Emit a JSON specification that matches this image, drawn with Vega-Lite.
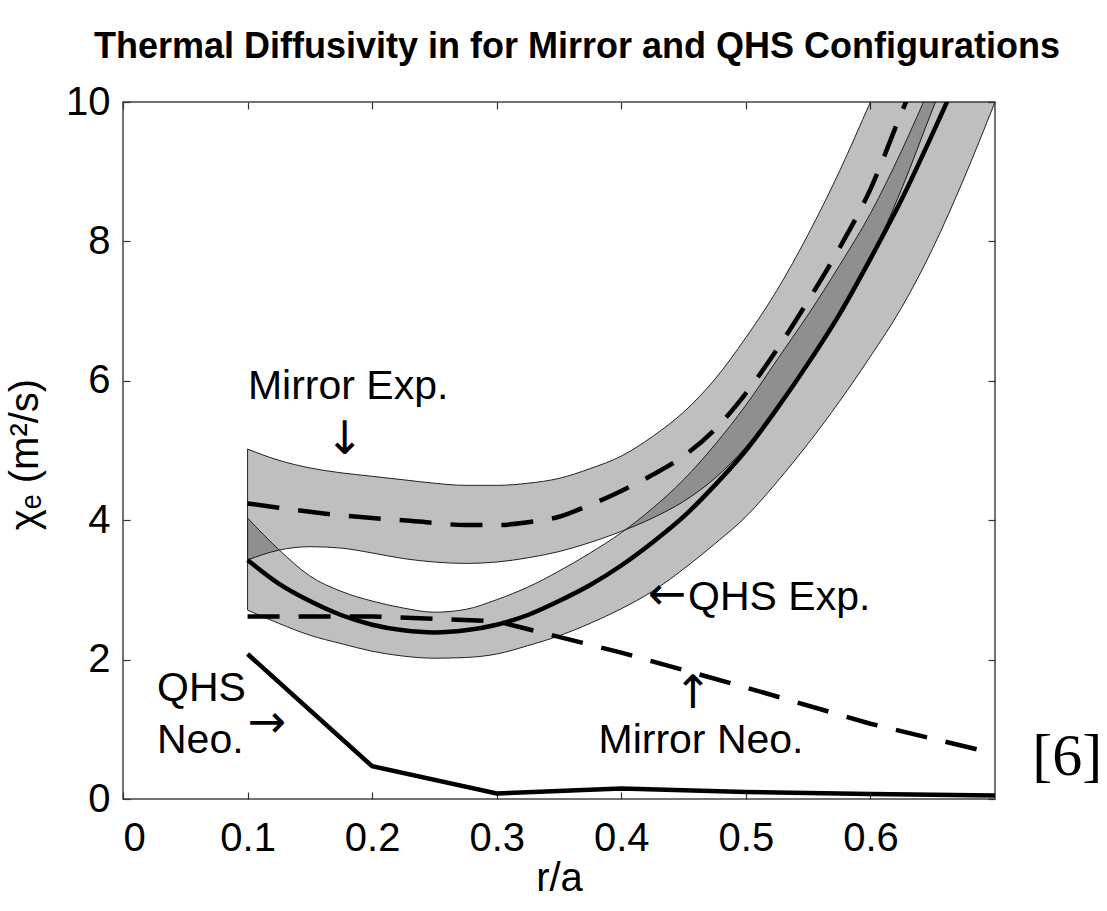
{
  "$schema": "https://vega.github.io/schema/vega-lite/v6.json",
  "width": 872,
  "height": 697,
  "autosize": {"type": "none"},
  "padding": {"left": 123, "top": 102, "right": 112, "bottom": 112},
  "background": "white",
  "title": {
    "text": "Thermal Diffusivity in for Mirror and QHS Configurations",
    "font": "Liberation Sans",
    "fontSize": 36,
    "fontWeight": "bold",
    "color": "black",
    "anchor": "middle",
    "frame": "group",
    "baseline": "alphabetic",
    "offset": -12,
    "dx": 18
  },
  "config": {
    "view": {"stroke": "#444", "strokeWidth": 1.5},
    "axis": {
      "domain": false,
      "grid": false,
      "tickColor": "#333",
      "tickWidth": 1.2,
      "labelFont": "Liberation Sans",
      "labelFontSize": 40,
      "labelColor": "black",
      "titleFont": "Liberation Sans",
      "titleFontSize": 40,
      "titleFontWeight": "normal",
      "titleColor": "black"
    }
  },
  "datasets": {
    "qhs": [
      {"x": 0.100, "lo": 2.71, "mid": 3.43, "hi": 4.03},
      {"x": 0.125, "lo": 2.52, "mid": 3.09, "hi": 3.58},
      {"x": 0.150, "lo": 2.35, "mid": 2.84, "hi": 3.20},
      {"x": 0.175, "lo": 2.23, "mid": 2.64, "hi": 2.98},
      {"x": 0.200, "lo": 2.12, "mid": 2.50, "hi": 2.84},
      {"x": 0.225, "lo": 2.05, "mid": 2.42, "hi": 2.74},
      {"x": 0.250, "lo": 2.02, "mid": 2.39, "hi": 2.68},
      {"x": 0.275, "lo": 2.03, "mid": 2.42, "hi": 2.72},
      {"x": 0.300, "lo": 2.08, "mid": 2.50, "hi": 2.86},
      {"x": 0.325, "lo": 2.20, "mid": 2.64, "hi": 3.04},
      {"x": 0.350, "lo": 2.34, "mid": 2.84, "hi": 3.27},
      {"x": 0.375, "lo": 2.52, "mid": 3.07, "hi": 3.53},
      {"x": 0.400, "lo": 2.73, "mid": 3.35, "hi": 3.82},
      {"x": 0.425, "lo": 2.98, "mid": 3.68, "hi": 4.17},
      {"x": 0.450, "lo": 3.30, "mid": 4.05, "hi": 4.58},
      {"x": 0.475, "lo": 3.66, "mid": 4.50, "hi": 5.08},
      {"x": 0.500, "lo": 4.05, "mid": 5.00, "hi": 5.65},
      {"x": 0.525, "lo": 4.55, "mid": 5.60, "hi": 6.30},
      {"x": 0.550, "lo": 5.10, "mid": 6.25, "hi": 6.95},
      {"x": 0.575, "lo": 5.70, "mid": 6.95, "hi": 7.65},
      {"x": 0.600, "lo": 6.35, "mid": 7.75, "hi": 8.40},
      {"x": 0.625, "lo": 7.05, "mid": 8.60, "hi": 9.30},
      {"x": 0.650, "lo": 7.90, "mid": 9.55, "hi": 10.30},
      {"x": 0.675, "lo": 8.90, "mid": 10.55, "hi": 11.30},
      {"x": 0.700, "lo": 10.00, "mid": 11.60, "hi": 12.30}
    ],
    "mir": [
      {"x": 0.100, "lo": 3.43, "mid": 4.24, "hi": 5.02},
      {"x": 0.125, "lo": 3.57, "mid": 4.18, "hi": 4.86},
      {"x": 0.150, "lo": 3.62, "mid": 4.12, "hi": 4.75},
      {"x": 0.175, "lo": 3.60, "mid": 4.07, "hi": 4.68},
      {"x": 0.200, "lo": 3.53, "mid": 4.03, "hi": 4.63},
      {"x": 0.225, "lo": 3.45, "mid": 4.00, "hi": 4.58},
      {"x": 0.250, "lo": 3.40, "mid": 3.96, "hi": 4.53},
      {"x": 0.275, "lo": 3.38, "mid": 3.93, "hi": 4.50},
      {"x": 0.300, "lo": 3.40, "mid": 3.93, "hi": 4.50},
      {"x": 0.325, "lo": 3.46, "mid": 3.97, "hi": 4.53},
      {"x": 0.350, "lo": 3.55, "mid": 4.05, "hi": 4.60},
      {"x": 0.375, "lo": 3.68, "mid": 4.22, "hi": 4.74},
      {"x": 0.400, "lo": 3.84, "mid": 4.42, "hi": 4.92},
      {"x": 0.425, "lo": 4.03, "mid": 4.65, "hi": 5.20},
      {"x": 0.450, "lo": 4.27, "mid": 4.92, "hi": 5.55},
      {"x": 0.475, "lo": 4.60, "mid": 5.30, "hi": 6.02},
      {"x": 0.500, "lo": 5.05, "mid": 5.82, "hi": 6.62},
      {"x": 0.525, "lo": 5.62, "mid": 6.45, "hi": 7.30},
      {"x": 0.550, "lo": 6.25, "mid": 7.15, "hi": 8.10},
      {"x": 0.575, "lo": 6.95, "mid": 7.90, "hi": 9.00},
      {"x": 0.600, "lo": 7.75, "mid": 8.75, "hi": 10.00},
      {"x": 0.625, "lo": 8.75, "mid": 9.85, "hi": 11.00},
      {"x": 0.650, "lo": 9.90, "mid": 10.90, "hi": 12.00},
      {"x": 0.675, "lo": 11.00, "mid": 12.00, "hi": 13.00},
      {"x": 0.700, "lo": 12.10, "mid": 13.10, "hi": 14.00}
    ],
    "neo": [
      {"x": 0.1, "y": 2.62, "series": "Mirror Neo."},
      {"x": 0.2, "y": 2.62, "series": "Mirror Neo."},
      {"x": 0.3, "y": 2.55, "series": "Mirror Neo."},
      {"x": 0.4, "y": 2.10, "series": "Mirror Neo."},
      {"x": 0.5, "y": 1.60, "series": "Mirror Neo."},
      {"x": 0.6, "y": 1.08, "series": "Mirror Neo."},
      {"x": 0.7, "y": 0.65, "series": "Mirror Neo."},
      {"x": 0.1, "y": 2.08, "series": "QHS Neo."},
      {"x": 0.2, "y": 0.47, "series": "QHS Neo."},
      {"x": 0.3, "y": 0.08, "series": "QHS Neo."},
      {"x": 0.4, "y": 0.15, "series": "QHS Neo."},
      {"x": 0.5, "y": 0.10, "series": "QHS Neo."},
      {"x": 0.6, "y": 0.07, "series": "QHS Neo."},
      {"x": 0.7, "y": 0.05, "series": "QHS Neo."}
    ],
    "notesLeft": [
      {"x": 0.1003, "y": 5.91, "label": "Mirror Exp."},
      {"x": 0.4536, "y": 2.88, "label": "QHS Exp."},
      {"x": 0.0273, "y": 1.58, "label": "QHS"},
      {"x": 0.0273, "y": 0.83, "label": "Neo."}
    ],
    "notesCenter": [
      {"x": 0.464, "y": 0.83, "label": "Mirror Neo."}
    ],
    "arrows": [
      {"x": 0.178, "y": 5.15, "label": "↓"},
      {"x": 0.4367, "y": 2.93, "label": "←"},
      {"x": 0.4576, "y": 1.5, "label": "↑"},
      {"x": 0.1156, "y": 1.09, "label": "→"}
    ],
    "ref": [
      {"x": 0.758, "y": 0.6, "label": "[6]"}
    ]
  },
  "resolve": {"axis": {"x": "independent", "y": "independent"}},
  "layer": [
    {
      "data": {"name": "mir"},
      "mark": {"type": "area", "clip": true, "fill": "black", "fillOpacity": 0.25, "stroke": "#222", "strokeWidth": 1, "interpolate": "monotone"},
      "encoding": {
        "x": {"field": "x", "type": "quantitative", "scale": {"domain": [0, 0.7], "nice": false, "zero": false},
              "axis": {"orient": "bottom", "values": [0, 0.1, 0.2, 0.3, 0.4, 0.5, 0.6], "format": "~g", "tickSize": -7, "labelPadding": 26, "title": "r/a", "titlePadding": 0}},
        "y": {"field": "lo", "type": "quantitative", "scale": {"domain": [0, 10], "nice": false},
              "axis": {"orient": "left", "values": [0, 2, 4, 6, 8, 10], "tickSize": -7, "labelPadding": 20, "title": "χₑ (m²/s)", "titleX": -98, "titleY": 352, "titleAngle": -90, "titleAlign": "center", "titleBaseline": "middle"}},
        "y2": {"field": "hi"}
      }
    },
    {
      "data": {"name": "qhs"},
      "mark": {"type": "area", "clip": true, "fill": "black", "fillOpacity": 0.25, "stroke": "#222", "strokeWidth": 1, "interpolate": "monotone"},
      "encoding": {
        "x": {"field": "x", "type": "quantitative", "axis": {"orient": "top", "values": [0, 0.1, 0.2, 0.3, 0.4, 0.5, 0.6], "tickSize": -7, "labels": false, "title": null}},
        "y": {"field": "lo", "type": "quantitative", "axis": {"orient": "right", "values": [0, 2, 4, 6, 8, 10], "tickSize": -7, "labels": false, "title": null}},
        "y2": {"field": "hi"}
      }
    },
    {
      "data": {"name": "mir"},
      "mark": {"type": "line", "clip": true, "color": "black", "strokeWidth": 4.5, "strokeDash": [32, 19], "interpolate": "monotone"},
      "encoding": {
        "x": {"field": "x", "type": "quantitative", "axis": null},
        "y": {"field": "mid", "type": "quantitative", "axis": null}
      }
    },
    {
      "data": {"name": "qhs"},
      "mark": {"type": "line", "clip": true, "color": "black", "strokeWidth": 4.5, "interpolate": "monotone"},
      "encoding": {
        "x": {"field": "x", "type": "quantitative", "axis": null},
        "y": {"field": "mid", "type": "quantitative", "axis": null}
      }
    },
    {
      "data": {"name": "neo"},
      "transform": [{"filter": "datum.series === 'Mirror Neo.'"}],
      "mark": {"type": "line", "clip": true, "color": "black", "strokeWidth": 4.5, "strokeDash": [32, 19]},
      "encoding": {
        "x": {"field": "x", "type": "quantitative", "axis": null},
        "y": {"field": "y", "type": "quantitative", "axis": null}
      }
    },
    {
      "data": {"name": "neo"},
      "transform": [{"filter": "datum.series === 'QHS Neo.'"}],
      "mark": {"type": "line", "clip": true, "color": "black", "strokeWidth": 4.5},
      "encoding": {
        "x": {"field": "x", "type": "quantitative", "axis": null},
        "y": {"field": "y", "type": "quantitative", "axis": null}
      }
    },
    {
      "data": {"name": "notesLeft"},
      "mark": {"type": "text", "font": "Liberation Sans", "fontSize": 41, "color": "black", "baseline": "middle", "align": "left"},
      "encoding": {
        "x": {"field": "x", "type": "quantitative", "axis": null},
        "y": {"field": "y", "type": "quantitative", "axis": null},
        "text": {"field": "label"}
      }
    },
    {
      "data": {"name": "notesCenter"},
      "mark": {"type": "text", "font": "Liberation Sans", "fontSize": 41, "color": "black", "baseline": "middle", "align": "center"},
      "encoding": {
        "x": {"field": "x", "type": "quantitative", "axis": null},
        "y": {"field": "y", "type": "quantitative", "axis": null},
        "text": {"field": "label"}
      }
    },
    {
      "data": {"name": "arrows"},
      "mark": {"type": "text", "font": "DejaVu Sans", "fontSize": 46, "color": "black", "baseline": "middle", "align": "center"},
      "encoding": {
        "x": {"field": "x", "type": "quantitative", "axis": null},
        "y": {"field": "y", "type": "quantitative", "axis": null},
        "text": {"field": "label"}
      }
    },
    {
      "data": {"name": "ref"},
      "mark": {"type": "text", "font": "Liberation Serif", "fontSize": 60, "color": "black", "baseline": "middle", "align": "center"},
      "encoding": {
        "x": {"field": "x", "type": "quantitative", "axis": null},
        "y": {"field": "y", "type": "quantitative", "axis": null},
        "text": {"field": "label"}
      }
    }
  ]
}
